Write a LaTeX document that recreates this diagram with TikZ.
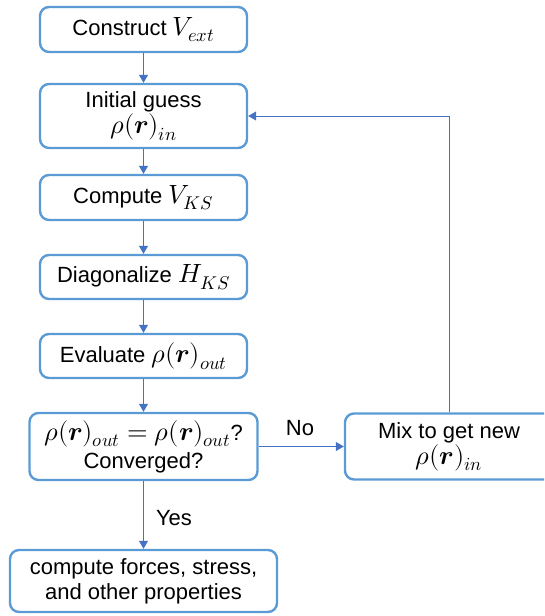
\documentclass[tikz,border=0pt]{standalone}
\usepackage{amsmath}
\usepackage{fontspec}
\usepackage{unicode-math}
\setmainfont{Liberation Sans}
\setmathfont{Latin Modern Math}[Scale=1.2]
\usetikzlibrary{arrows.meta}
\definecolor{boxblue}{HTML}{5B9BD5}
\definecolor{arrowblue}{HTML}{4472C4}
\tikzset{
  stepbox/.style={draw=boxblue, line width=2.4pt, rounded corners=9pt, fill=white,
    align=center, inner sep=0pt, font=\fontsize{22}{25}\selectfont},
  conn/.style={draw=arrowblue, line width=1pt, -{Triangle[length=8pt,width=9pt]}},
  lbl/.style={font=\fontsize{22}{25}\selectfont, inner sep=0pt}
}
\begin{document}
\begin{tikzpicture}[x=1pt,y=-1pt]
\useasboundingbox (0,0) rectangle (544,616);
\clip (0,0) rectangle (544,616);
\node[stepbox, minimum width=207pt, minimum height=45pt] (b1) at (143.5,29.5) {Construct $V_{ext}$};
\node[stepbox, minimum width=207pt, minimum height=64pt] (b2) at (143.5,116) {Initial guess\\[1pt] $\rho(\symbfit{r})_{in}$};
\node[stepbox, minimum width=207pt, minimum height=45pt] (b3) at (143.5,197.5) {Compute $V_{KS}$};
\node[stepbox, minimum width=207pt, minimum height=44pt] (b4) at (143.5,277) {Diagonalize $H_{KS}$};
\node[stepbox, minimum width=207pt, minimum height=44pt] (b5) at (143.5,356) {Evaluate $\rho(\symbfit{r})_{out}$};
\node[stepbox, minimum width=228pt, minimum height=67pt] (b6) at (143.5,446.5) {$\rho(\symbfit{r})_{out}=\rho(\symbfit{r})_{out}$?\\[3pt] Converged?};
\node[stepbox, minimum width=208pt, minimum height=66pt] (b7) at (449,446.5) {Mix to get new\\[1pt] $\rho(\symbfit{r})_{in}$};
\node[stepbox, minimum width=267pt, minimum height=62pt] (b8) at (143.5,581) {compute forces, stress,\\ and other properties};
\draw[conn] (b1) -- (b2);
\draw[conn] (b2) -- (b3);
\draw[conn] (b3) -- (b4);
\draw[conn] (b4) -- (b5);
\draw[conn] (b5) -- (b6);
\draw[conn] (b6) -- (b7);
\draw[conn] (b6) -- (b8);
\draw[conn] (b7.north) |- (b2.east);
\node[lbl] (no) at (300,428) {No};
\node[lbl] (yes) at (174,518) {Yes};
\end{tikzpicture}
\end{document}
